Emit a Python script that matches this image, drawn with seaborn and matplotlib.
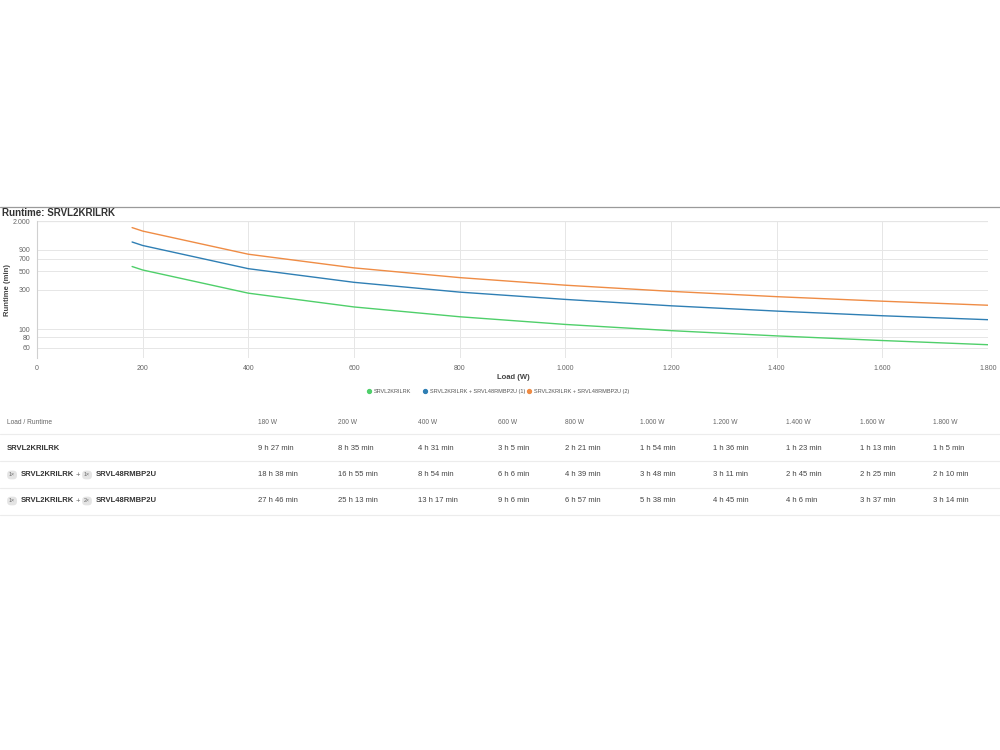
import pandas as pd
import seaborn as sns
import matplotlib.pyplot as plt
from matplotlib.ticker import FixedLocator, NullLocator

# --- data ---
loads = [180, 200, 400, 600, 800, 1000, 1200, 1400, 1600, 1800]
loadLabels = ["180 W", "200 W", "400 W", "600 W", "800 W", "1.000 W",
              "1.200 W", "1.400 W", "1.600 W", "1.800 W"]
seriesNames = ["SRVL2KRILRK",
               "SRVL2KRILRK + SRVL48RMBP2U (1)",
               "SRVL2KRILRK + SRVL48RMBP2U (2)"]
runtimeBase = [567, 515, 271, 185, 141, 114, 96, 83, 73, 65]
runtimeOne = [1118, 1015, 534, 366, 279, 228, 191, 165, 145, 130]
runtimeTwo = [1666, 1513, 797, 546, 417, 338, 285, 246, 217, 194]
seriesColors = ["#4fcf6a", "#2f7fb4", "#ef8c45"]
xTicks = [0, 200, 400, 600, 800, 1000, 1200, 1400, 1600, 1800]
yTicks = [60, 80, 100, 300, 500, 700, 900, 2000]

W, H = 1000, 750


def fx(px):
    return px / W


def fy(py):
    return 1 - py / H


def fmtNum(v):
    return f"{v:,}".replace(",", ".")


def fmtRuntime(m):
    return f"{m // 60} h {m % 60} min"


longDf = pd.DataFrame({
    "load": loads * 3,
    "runtime": runtimeBase + runtimeOne + runtimeTwo,
    "series": [seriesNames[0]] * len(loads) + [seriesNames[1]] * len(loads)
              + [seriesNames[2]] * len(loads),
})

sns.set_style("white")
plt.rcParams["font.family"] = ["Liberation Sans", "DejaVu Sans"]

fig = plt.figure(figsize=(10, 7.5), dpi=100)
ax = fig.add_axes([fx(37), fy(358), fx(988 - 37), (358 - 221) / H])

sns.lineplot(data=longDf, x="load", y="runtime", hue="series",
             palette=seriesColors, linewidth=1.0, ax=ax, legend=False)

ax.set_yscale("log")
ax.set_xlim(0, 1800)
ax.set_ylim(45, 2000)
ax.xaxis.set_major_locator(FixedLocator(xTicks))
ax.set_xticklabels([fmtNum(v) for v in xTicks])
ax.yaxis.set_major_locator(FixedLocator(yTicks))
ax.yaxis.set_minor_locator(NullLocator())
ax.set_yticklabels([fmtNum(v) for v in yTicks])
ax.tick_params(axis="both", labelsize=5, colors="#666666", length=0, pad=5)
ax.grid(True, color="#e6e6e6", linewidth=0.7)
for side in ["top", "right", "bottom"]:
    ax.spines[side].set_visible(False)
ax.spines["left"].set_color("#d0d0d0")
ax.spines["left"].set_linewidth(0.8)
ax.axhline(2000, color="#dddddd", linewidth=1.6, zorder=0)
ax.set_xlabel("")
ax.set_ylabel("")

# title and separator
fig.add_artist(plt.Line2D([0, 1], [fy(207), fy(207)], color="#9a9a9a", linewidth=0.9))
fig.text(fx(2), fy(213), "Runtime: SRVL2KRILRK", fontsize=7, fontweight="bold",
         color="#333333", va="center")
fig.text(fx(8), fy(290), "Runtime (min)", fontsize=5.5, fontweight="bold",
         color="#444444", rotation=90, va="center", ha="center")
fig.text(fx(513), fy(377), "Load (W)", fontsize=5.5, fontweight="bold",
         color="#444444", va="center", ha="center")

# legend
legendX = [369, 425, 529]
for name, color, lx in zip(seriesNames, seriesColors, legendX):
    fig.add_artist(plt.Line2D([fx(lx)], [fy(391)], marker="o", markersize=2.8,
                              color=color, linestyle="none"))
    fig.text(fx(lx + 5), fy(391), name, fontsize=4.0, color="#555555",
             va="center_baseline")

# table
colX = [258, 338, 418, 498, 565, 640, 713, 786, 860, 933]
fig.text(fx(7), fy(422), "Load / Runtime", fontsize=4.8, color="#666666", va="center")
for label, cx in zip(loadLabels, colX):
    fig.text(fx(cx), fy(422), label, fontsize=4.8, color="#666666", va="center")

for ly in [434, 461, 488, 515]:
    fig.add_artist(plt.Line2D([0, 1], [fy(ly), fy(ly)], color="#ececec", linewidth=0.8))

rowY = [448, 475, 501]
rowData = [runtimeBase, runtimeOne, runtimeTwo]
for ry, vals in zip(rowY, rowData):
    for v, cx in zip(vals, colX):
        fig.text(fx(cx), fy(ry), fmtRuntime(v), fontsize=5.5, color="#444444", va="center")

badge = dict(boxstyle="round,pad=0.35,rounding_size=0.7", facecolor="#e4e4e4",
             edgecolor="none")
fig.text(fx(7), fy(448), "SRVL2KRILRK", fontsize=5.5, fontweight="bold",
         color="#333333", va="center")
for ry, count in zip(rowY[1:], ["1×", "2×"]):
    fig.text(fx(9), fy(ry), "1×", fontsize=3.8, color="#666666", va="center", bbox=badge)
    fig.text(fx(21), fy(ry), "SRVL2KRILRK", fontsize=5.5, fontweight="bold",
             color="#333333", va="center")
    fig.text(fx(76), fy(ry), "+", fontsize=5.5, color="#666666", va="center")
    fig.text(fx(84), fy(ry), count, fontsize=3.8, color="#666666", va="center", bbox=badge)
    fig.text(fx(96), fy(ry), "SRVL48RMBP2U", fontsize=5.5, fontweight="bold",
             color="#333333", va="center")

fig.savefig("out.png", dpi=100, facecolor="white")
